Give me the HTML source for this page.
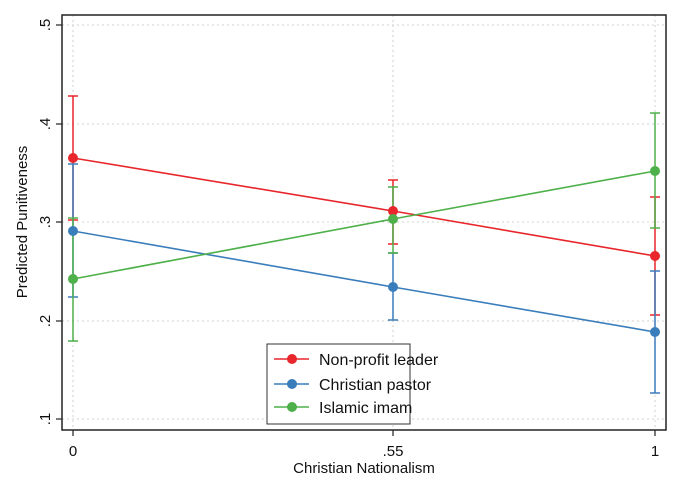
<!DOCTYPE html>
<html><head><style>body{margin:0;background:#fff}svg{display:block}</style></head><body>
<svg width="678" height="491" xmlns="http://www.w3.org/2000/svg" font-family="Liberation Sans, Arial, sans-serif">
<rect width="678" height="491" fill="#fff"/>
<g stroke="#d0d0d0" stroke-dasharray="2,3" stroke-width="1">
<line x1="62" x2="666" y1="25" y2="25"/><line x1="62" x2="666" y1="124" y2="124"/><line x1="62" x2="666" y1="222" y2="222"/><line x1="62" x2="666" y1="321" y2="321"/><line x1="62" x2="666" y1="419" y2="419"/>
<line x1="73" x2="73" y1="15" y2="430"/><line x1="393" x2="393" y1="15" y2="430"/><line x1="655" x2="655" y1="15" y2="430"/>
</g>
<rect x="62" y="15" width="604" height="415" fill="none" stroke="#222" stroke-width="1.5"/>
<g stroke="#222" stroke-width="1.2">
<line x1="56" x2="62" y1="25" y2="25"/><line x1="56" x2="62" y1="124" y2="124"/><line x1="56" x2="62" y1="222" y2="222"/><line x1="56" x2="62" y1="321" y2="321"/><line x1="56" x2="62" y1="419" y2="419"/>
<line x1="73" x2="73" y1="430" y2="436"/><line x1="393" x2="393" y1="430" y2="436"/><line x1="655" x2="655" y1="430" y2="436"/>
</g>
<g font-size="15" fill="#111" text-anchor="middle">
<text transform="translate(50,25) rotate(-90)" dy="0">.5</text>
<text transform="translate(50,124) rotate(-90)">.4</text>
<text transform="translate(50,222) rotate(-90)">.3</text>
<text transform="translate(50,321) rotate(-90)">.2</text>
<text transform="translate(50,419) rotate(-90)">.1</text>
<text x="73" y="456">0</text><text x="393" y="456">.55</text><text x="655" y="456">1</text>
<text x="364" y="473">Christian Nationalism</text>
<text transform="translate(27,222) rotate(-90)">Predicted Punitiveness</text>
</g>
<!-- error bars -->
<g stroke-width="1.5" fill="none">
<g stroke="#e8262b"><path d="M73 96V220M68 96H78M68 220H78M393 180V244M388 180H398M388 244H398M655 197V315M650 197H660M650 315H660"/></g>
<g stroke="#3a7dbb"><path d="M73 164V297M68 164H78M68 297H78M393 253V320M388 253H398M388 320H398M655 271V393M650 271H660M650 393H660"/></g>
<g stroke="#4db04a"><path d="M73 218V341M68 218H78M68 341H78M393 187V253M388 187H398M388 253H398M655 113V228M650 113H660M650 228H660"/></g>
</g>
<g stroke-width="1.6" fill="none">
<polyline stroke="#e8262b" points="73,158 393,211 655,256"/>
<polyline stroke="#3a7dbb" points="73,231 393,287 655,332"/>
<polyline stroke="#4db04a" points="73,279 393,219 655,171"/>
</g>
<g fill="#e8262b"><circle cx="73" cy="158" r="5"/><circle cx="393" cy="211" r="5"/><circle cx="655" cy="256" r="5"/></g>
<g fill="#3a7dbb"><circle cx="73" cy="231" r="5"/><circle cx="393" cy="287" r="5"/><circle cx="655" cy="332" r="5"/></g>
<g fill="#4db04a"><circle cx="73" cy="279" r="5"/><circle cx="393" cy="219" r="5"/><circle cx="655" cy="171" r="5"/></g>
<rect x="267" y="344" width="143" height="80" fill="#fff" stroke="#333" stroke-width="1"/>
<g stroke-width="1.6">
<line x1="274" x2="309" y1="359" y2="359" stroke="#e8262b"/><circle cx="292" cy="359" r="5" fill="#e8262b"/>
<line x1="274" x2="309" y1="384" y2="384" stroke="#3a7dbb"/><circle cx="292" cy="384" r="5" fill="#3a7dbb"/>
<line x1="274" x2="309" y1="407" y2="407" stroke="#4db04a"/><circle cx="292" cy="407" r="5" fill="#4db04a"/>
</g>
<g font-size="16" fill="#111">
<text x="319" y="365">Non-profit leader</text>
<text x="319" y="390">Christian pastor</text>
<text x="319" y="413">Islamic imam</text>
</g>
</svg>
</body></html>
